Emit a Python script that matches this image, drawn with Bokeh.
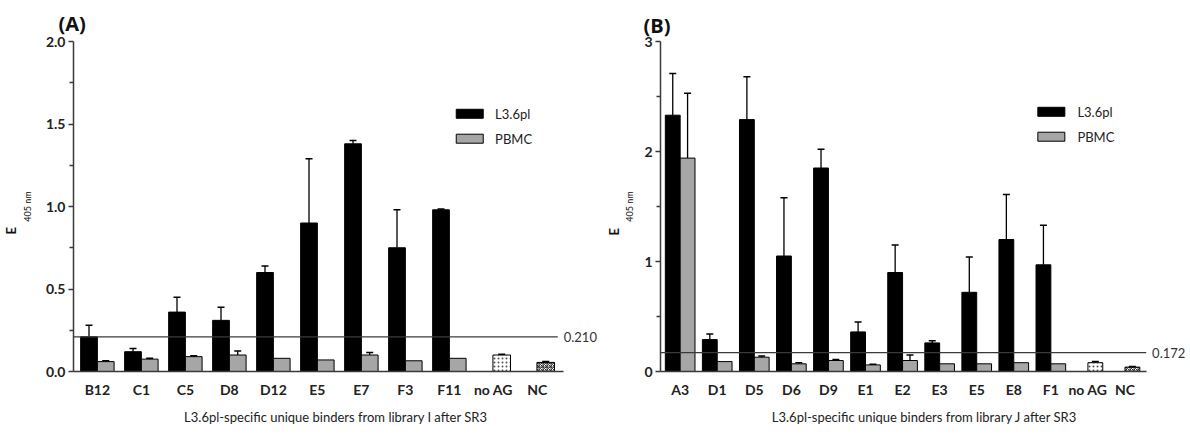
import numpy as np
from bokeh.plotting import figure
from bokeh.layouts import row
from bokeh.models import Range1d, FixedTicker, Title
from bokeh.core.properties import value
from bokeh.embed import file_html
from bokeh.resources import INLINE

# ---------------- data: panel A ----------------
cats_a = ["B12", "C1", "C5", "D8", "D12", "E5", "E7", "F3", "F11", "no AG", "NC"]
l36_a = [0.21, 0.12, 0.36, 0.31, 0.60, 0.90, 1.38, 0.75, 0.98]
l36_a_top = [0.28, 0.14, 0.45, 0.39, 0.64, 1.29, 1.40, 0.98, 0.985]
pbmc_a = [0.06, 0.075, 0.09, 0.10, 0.08, 0.07, 0.10, 0.065, 0.08]
pbmc_a_top = [0.065, 0.08, 0.095, 0.125, 0.08, 0.07, 0.115, 0.065, 0.08]
noag_a, noag_a_top = 0.10, 0.105
nc_a, nc_a_top = 0.055, 0.06
cutoff_a = 0.210
yticks_a = [0, 0.5, 1.0, 1.5, 2.0]
ytick_labels_a = ["0.0", "0.5", "1.0", "1.5", "2.0"]
yminor_a = [0.25, 0.75, 1.25, 1.75]
xtitle_a = "L3.6pl-specific unique binders from library  I after SR3"

# ---------------- data: panel B ----------------
cats_b = ["A3", "D1", "D5", "D6", "D9", "E1", "E2", "E3", "E5", "E8", "F1", "no AG", "NC"]
l36_b = [2.33, 0.29, 2.29, 1.05, 1.85, 0.36, 0.90, 0.26, 0.72, 1.20, 0.97]
l36_b_top = [2.71, 0.34, 2.68, 1.58, 2.02, 0.45, 1.15, 0.28, 1.04, 1.61, 1.33]
pbmc_b = [1.94, 0.09, 0.13, 0.07, 0.10, 0.06, 0.10, 0.07, 0.07, 0.08, 0.07]
pbmc_b_top = [2.53, 0.09, 0.14, 0.08, 0.11, 0.065, 0.15, 0.07, 0.07, 0.08, 0.07]
noag_b, noag_b_top = 0.08, 0.09
nc_b, nc_b_top = 0.04, 0.045
cutoff_b = 0.172
yticks_b = [0, 1, 2, 3]
ytick_labels_b = ["0", "1", "2", "3"]
yminor_b = [0.5, 1.5, 2.5]
xtitle_b = "L3.6pl-specific unique binders from library J after SR3"

legend_labels = ["L3.6pl", "PBMC"]
panel_labels = ["(A)", "(B)"]
ylabel_main = "E"
ylabel_sub = "405 nm"

FONT = "Lato"
BLACK = "#000000"
GRAY = "#a6a6a6"
AXIS = "#3a3a3a"


def make_panel(width, fl, fr, ft, fb, cats, first_center_px, spacing_px, axis_end_px,
               ymax, l36, l36_top, pbmc, pbmc_top, noag, noag_top, nc, nc_top,
               cutoff, cutoff_end_px, yticks, ylabels, yminor, xtitle,
               bar_w, ctrl_w, legend_px, panel_label, title_offset, title_standoff,
               sub_standoff, e_offset):
    H = 436
    xs = -(first_center_px - fl) / spacing_px
    xe = (width - fr - first_center_px) / spacing_px
    ppu_y = (H - fb - ft) / ymax

    def px2x(px):
        return (px - first_center_px) / spacing_px

    def py2y(py):
        return (H - fb - py) / ppu_y

    p = figure(width=width, height=H, output_backend="svg", toolbar_location=None,
               x_range=Range1d(xs, xe), y_range=Range1d(0, ymax),
               min_border_left=fl, min_border_right=fr,
               min_border_top=ft, min_border_bottom=fb)
    p.outline_line_color = None
    p.xgrid.visible = False
    p.ygrid.visible = False
    p.background_fill_color = "white"
    p.border_fill_color = "white"

    # panel label as title
    p.title.text = panel_label
    p.title.align = "left"
    p.title.offset = title_offset
    p.title.standoff = title_standoff
    p.title.text_font = "Open Sans"
    p.title.text_font_style = "bold"
    p.title.text_font_size = "20px"
    p.title.text_color = "#111111"

    n = len(cats)
    idx = np.arange(n)
    ns = len(l36)
    si = idx[:ns]
    off = bar_w / 2

    # bars
    p.vbar(x=si - off, top=l36, width=bar_w, fill_color=BLACK, line_color=BLACK, line_width=1)
    p.vbar(x=si + off, top=pbmc, width=bar_w, fill_color=GRAY, line_color=BLACK, line_width=1)
    p.vbar(x=[idx[ns] + off], top=[noag], width=ctrl_w, fill_color="white",
           line_color=BLACK, line_width=1, hatch_pattern="dot", hatch_color="#555555",
           hatch_scale=4, hatch_weight=1)
    p.vbar(x=[idx[ns + 1] + off], top=[nc], width=ctrl_w, fill_color="white",
           line_color=BLACK, line_width=1, hatch_pattern="criss_cross", hatch_color="#333333",
           hatch_scale=4, hatch_weight=1)

    # error bars (upper only)
    ex, ey0, ey1 = [], [], []
    for xv, v, t in zip(list(si - off), l36, l36_top):
        ex.append(xv); ey0.append(v); ey1.append(t)
    for xv, v, t in zip(list(si + off), pbmc, pbmc_top):
        if t > v:
            ex.append(xv); ey0.append(v); ey1.append(t)
    ex.append(idx[ns] + off); ey0.append(noag); ey1.append(noag_top)
    ex.append(idx[ns + 1] + off); ey0.append(nc); ey1.append(nc_top)
    p.segment(x0=ex, y0=ey0, x1=ex, y1=ey1, line_color=BLACK, line_width=1.3)
    p.scatter(x=ex, y=ey1, marker="dash", size=7, line_color=BLACK, line_width=1.5)

    # cutoff line + value
    p.segment(x0=[xs], y0=[cutoff], x1=[px2x(cutoff_end_px)], y1=[cutoff],
              line_color=AXIS, line_width=1.4)
    p.text(x=[px2x(cutoff_end_px + 6)], y=[cutoff], text=[f"{cutoff:.3f}"],
           text_font=value(FONT), text_font_size="13px", text_color="#333333",
           text_baseline="middle", text_align="left")

    # legend (manual)
    bx, by1, by2, tx = legend_px
    p.rect(x=[px2x(bx)], y=[py2y(by1)], width=27, height=9, width_units="screen",
           height_units="screen", fill_color=BLACK, line_color=BLACK)
    p.rect(x=[px2x(bx)], y=[py2y(by2)], width=27, height=9, width_units="screen",
           height_units="screen", fill_color=GRAY, line_color=BLACK)
    p.text(x=[px2x(tx), px2x(tx)], y=[py2y(by1), py2y(by2)], text=legend_labels,
           text_font=value(FONT), text_font_size="13px", text_color="#222222",
           text_baseline="middle", text_align="left")

    # axes
    xa = p.xaxis[0]
    xa.bounds = (xs, px2x(axis_end_px))
    xa.ticker = FixedTicker(ticks=list(range(n)))
    xa.major_label_overrides = {i: c for i, c in enumerate(cats)}
    xa.major_tick_out = 0
    xa.major_tick_in = 0
    xa.minor_tick_out = 0
    xa.minor_tick_in = 0
    xa.axis_line_color = AXIS
    xa.axis_line_width = 1.5
    xa.major_label_text_font = FONT
    xa.major_label_text_font_style = "bold"
    xa.major_label_text_font_size = "14px"
    xa.major_label_text_color = "#222222"
    xa.major_label_standoff = 9
    xa.axis_label = xtitle
    xa.axis_label_text_font = FONT
    xa.axis_label_text_font_style = "normal"
    xa.axis_label_text_font_size = "13px"
    xa.axis_label_text_color = "#222222"
    xa.axis_label_standoff = 8

    ya = p.yaxis[0]
    ya.ticker = FixedTicker(ticks=yticks, minor_ticks=yminor)
    ya.major_label_overrides = {t: l for t, l in zip(yticks, ylabels)}
    ya.major_tick_out = 5
    ya.major_tick_in = 0
    ya.minor_tick_out = 4
    ya.minor_tick_in = 0
    ya.axis_line_color = AXIS
    ya.axis_line_width = 1.5
    ya.major_tick_line_color = AXIS
    ya.minor_tick_line_color = AXIS
    ya.major_tick_line_width = 1.3
    ya.minor_tick_line_width = 1.3
    ya.major_label_text_font = FONT
    ya.major_label_text_font_style = "bold"
    ya.major_label_text_font_size = "14px"
    ya.major_label_text_color = "#222222"
    ya.major_label_standoff = 3
    # subscript part of the y title as the axis label
    ya.axis_label = ylabel_sub
    ya.axis_label_text_font = FONT
    ya.axis_label_text_font_size = "9px"
    ya.axis_label_text_font_style = "normal"
    ya.axis_label_text_color = "#111111"
    ya.axis_label_standoff = sub_standoff

    # main letter "E" as a rotated title further left
    p.add_layout(Title(text=ylabel_main, align="left", offset=e_offset, standoff=0,
                       text_font=FONT, text_font_size="13px", text_font_style="bold",
                       text_color="#111111"), "left")
    return p


pA = make_panel(603, 70, 2, 40, 65, cats_a, 94, 44.25, 563, 2.0,
                l36_a, l36_a_top, pbmc_a, pbmc_a_top, noag_a, noag_a_top, nc_a, nc_a_top,
                cutoff_a, 557, yticks_a, ytick_labels_a, yminor_a, xtitle_a,
                0.38, 0.4, (468.5, 112.5, 137.5, 494), panel_labels[0], -15, 10, 10, 137)

pB = make_panel(587, 48, 2, 41, 64, cats_b, 68, 37.7, 542, 3.0,
                l36_b, l36_b_top, pbmc_b, pbmc_b_top, noag_b, noag_b_top, nc_b, nc_b_top,
                cutoff_b, 542, yticks_b, ytick_labels_b, yminor_b, xtitle_b,
                0.4, 0.4, (445.5, 111.5, 136.5, 472), panel_labels[1], -17, 6, 6, 136)

layout = row(pA, pB)
open("out.html", "w").write(file_html(layout, INLINE))
